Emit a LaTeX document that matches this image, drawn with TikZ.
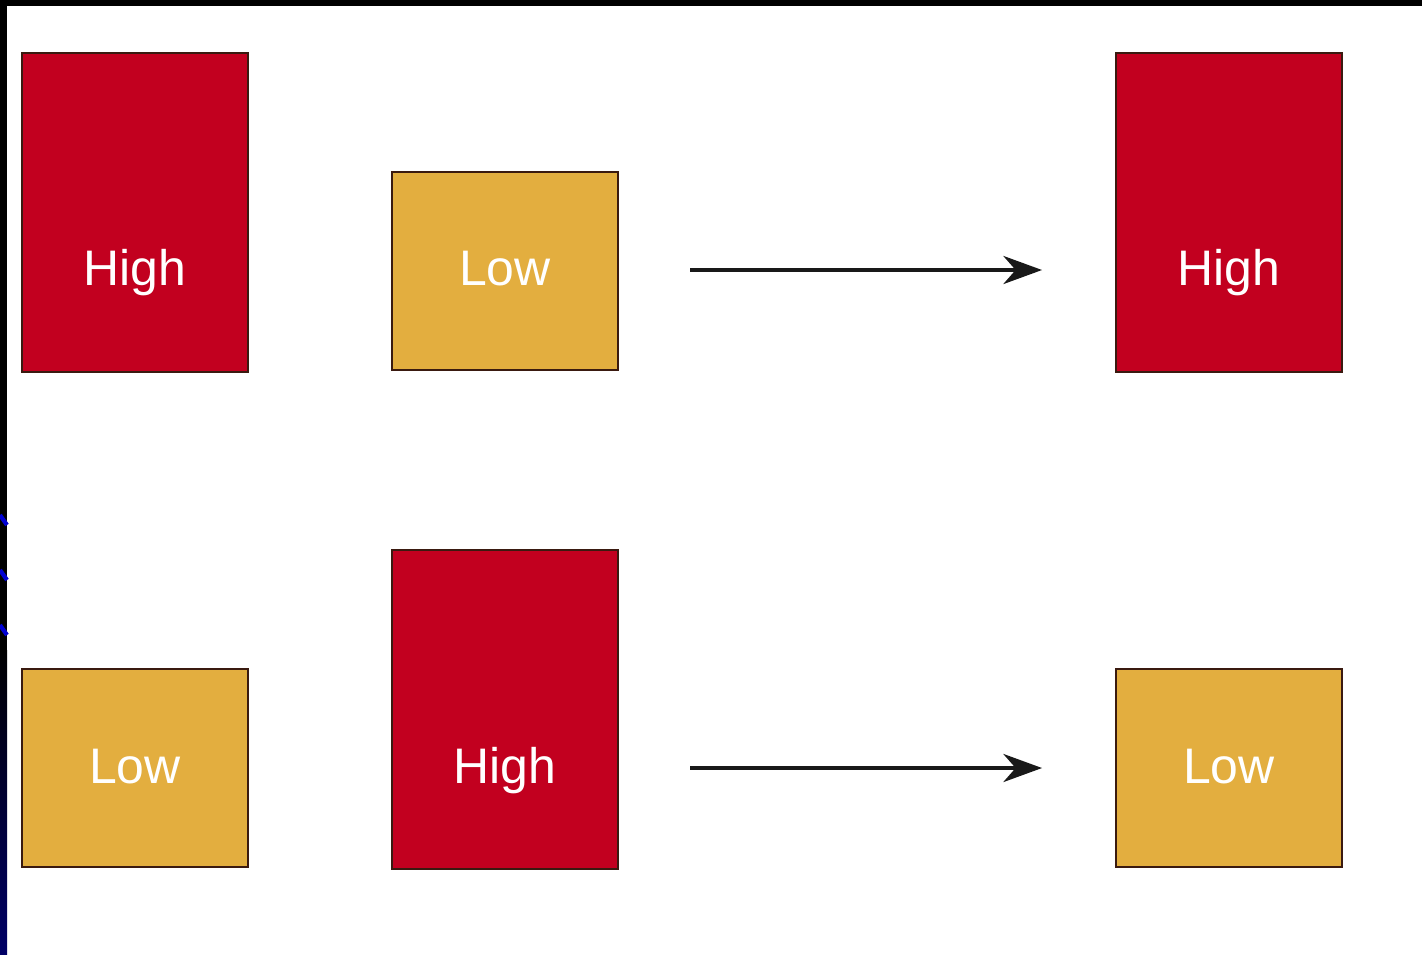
\documentclass[tikz,border=0pt]{standalone}
\usepackage{fontspec}
\setmainfont{Liberation Sans}
\usetikzlibrary{arrows.meta}
\definecolor{hired}{HTML}{C2001F}
\definecolor{logold}{HTML}{E3AE3F}
\definecolor{edge}{HTML}{3A1A10}
\definecolor{navy}{HTML}{000066}
\tikzset{
  box/.style={draw=edge, line width=0.75pt},
  hibox/.style={box, fill=hired},
  lobox/.style={box, fill=logold},
  lbl/.style={text=white, font=\fontsize{14.2}{17}\selectfont, inner sep=0pt, anchor=base},
  flow/.style={draw=black!90, line width=0.9pt, -{Stealth[length=11pt, width=8pt, inset=3.5pt]}}
}
\begin{document}
\begin{tikzpicture}[x=0.01cm, y=-0.01cm]
\useasboundingbox (0,0) rectangle (1422,954);
% background
\fill[white] (0,0) rectangle (1422,954);
\fill[black] (0,0) rectangle (1422,6);
\fill[black] (0,0) rectangle (7,700);
\shade[top color=black, bottom color=navy] (0,650) rectangle (7,954);
\foreach \yy in {515,570,625} \draw[blue!70!navy, line width=1.2pt] (0,\yy) -- (7,\yy+10);
% top row
\path[hibox] (22,53) rectangle (248,372);
\node[lbl] (a1) at (135,285) {High};
\path[lobox] (392,172) rectangle (618,370);
\node[lbl] (b1) at (505,285) {Low};
\path[hibox] (1116,53) rectangle (1342,372);
\node[lbl] (c1) at (1229,285) {High};
\coordinate (s1) at (690,270);
\coordinate (t1) at (1042,270);
\draw[flow] (s1) -- (t1);
% bottom row
\path[lobox] (22,669) rectangle (248,867);
\node[lbl] (a2) at (135,783) {Low};
\path[hibox] (392,550) rectangle (618,869);
\node[lbl] (b2) at (505,783) {High};
\path[lobox] (1116,669) rectangle (1342,867);
\node[lbl] (c2) at (1229,783) {Low};
\coordinate (s2) at (690,768);
\coordinate (t2) at (1042,768);
\draw[flow] (s2) -- (t2);
\end{tikzpicture}
\end{document}
